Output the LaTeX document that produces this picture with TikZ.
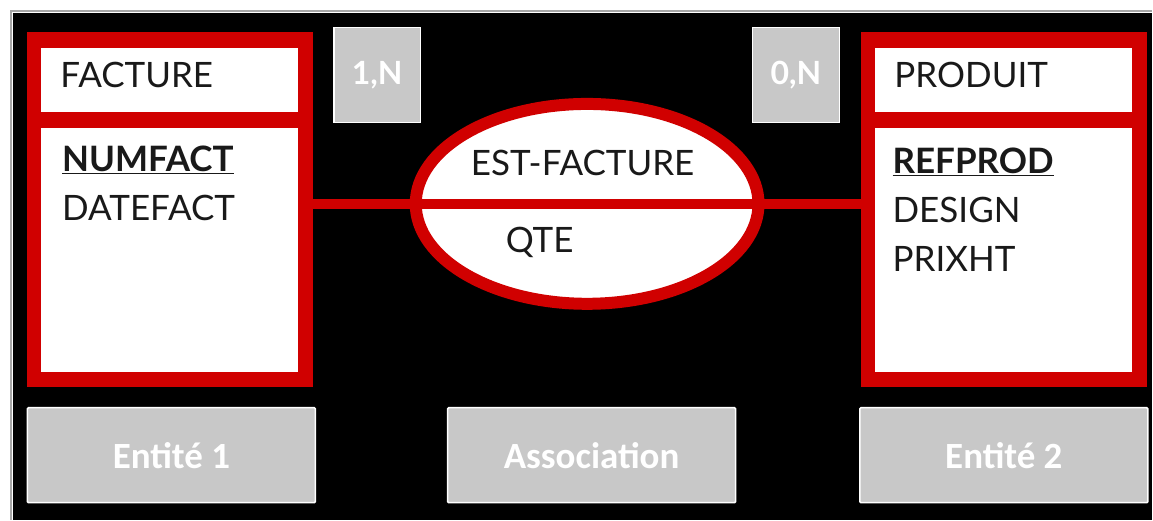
\documentclass[tikz,border=0pt]{standalone}
\usepackage{fontspec}
\setmainfont{Lato}
\newfontfamily\tagfamily{Carlito}
\usepackage{tikz}
\usetikzlibrary{shapes.geometric,positioning}
\definecolor{erred}{RGB}{208,0,0}
\definecolor{cardgrey}{RGB}{200,200,200}
\newcommand{\erfont}{\fontsize{35}{49}\selectfont}
\newcommand{\cardfont}{\fontsize{32}{36}\selectfont\bfseries}
\newcommand{\tagfont}{\tagfamily\fontsize{37}{40}\selectfont\bfseries}

\begin{document}
\begin{tikzpicture}[x=1pt,y=-1pt,
    frame/.style={fill=erred, minimum width=286pt, minimum height=355pt, inner sep=0},
    headbox/.style={fill=white, minimum width=257pt, minimum height=64pt, text width=218pt, inner xsep=19.5pt, inner ysep=0, text depth=11pt, align=left, font=\erfont, text=black!90},
    bodybox/.style={fill=white, minimum width=257pt, minimum height=244pt, inner sep=0},
    attr/.style={anchor=north west, align=left, inner sep=0, font=\erfont, text=black!90},
    card/.style={fill=cardgrey, draw=white, line width=1.5pt, minimum width=87pt, minimum height=95pt, text=white, font=\cardfont},
    tagbox/.style={fill=cardgrey, draw=white, line width=1.5pt, rounded corners=1pt, minimum width=288pt, minimum height=95pt, text=white, font=\tagfont},
    link/.style={draw=erred, line width=10pt}]
          \fill[white] (0,0) rectangle (1153,520);
          \draw[gray!70, line width=1.5pt] (11,520) -- (11,11) -- (1153,11);
          \fill[black] (13.5,13.5) rectangle (1153,520);

          \node[frame] (FactureFrame) at (170,209.5) {};
          \node[headbox] (FactureHead) at (169.5,80) {FACTURE};
          \node[bodybox] (FactureBody) at (169.5,250) {};
          \node[attr] (FactureAttr) at (62,146) {\underline{\textbf{NUMFACT}}\\DATEFACT};

          \node[frame] (ProduitFrame) at (1005,209.5) {};
          \node[headbox] (ProduitHead) at (1004,80) {PRODUIT};
          \node[bodybox] (ProduitBody) at (1004,250) {};
          \node[attr] (ProduitAttr) at (893,148) {\underline{\textbf{REFPROD}}\\DESIGN\\PRIXHT};

          \node[ellipse, draw=erred, line width=12pt, fill=white, minimum width=343pt, minimum height=200pt, inner sep=0] (EstFacture) at (587.5,204) {};
          \draw[link] (FactureFrame.east |- EstFacture.center) -- (ProduitFrame.west |- EstFacture.center);
          \node[font=\erfont, text=black!90] (EstFactureName) at (583,163) {EST-FACTURE};
          \node[font=\erfont, text=black!90] (EstFactureQte) at (540,243) {QTE};

          \node[card] (CardFacture) at (377.5,75) {1,N};
          \node[card] (CardProduit) at (796.5,75) {0,N};

          \node[tagbox] (TagEntite1) at (171.5,455.5) {Entité 1};
          \node[tagbox] (TagAssociation) at (592,455.5) {Association};
          \node[tagbox] (TagEntite2) at (1004.5,455.5) {Entité 2};
        \end{tikzpicture}
\end{document}
